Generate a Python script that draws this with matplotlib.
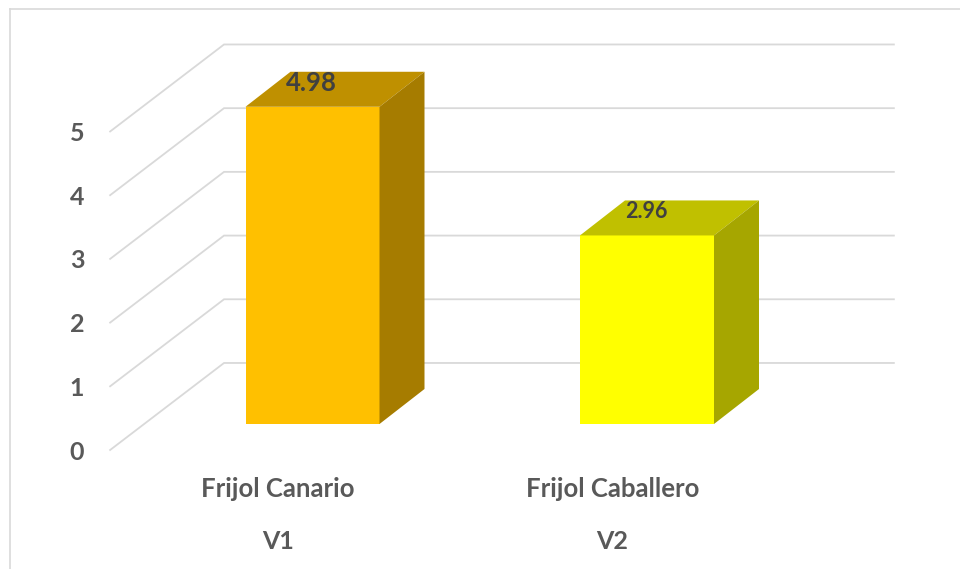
import matplotlib
matplotlib.use('Agg')
import matplotlib.pyplot as plt
from matplotlib.patches import Polygon
from matplotlib.lines import Line2D

plt.rcParams['font.family'] = ['Lato', 'DejaVu Sans']

# Datos
variedades = ['Frijol Canario', 'Frijol Caballero']
codigos = ['V1', 'V2']
valores = [4.98, 2.96]
ticks_y = [0, 1, 2, 3, 4, 5]

colores_frente = ['#FFC000', '#FFFF00']
colores_arriba = ['#BF9000', '#C0C000']
colores_lado = ['#A67C00', '#A6A600']

# Escalas: pixeles por categoria y por unidad de valor
px_x = 334.5
px_y = 63.7
ancho = 134 / px_x
fondo_x = 45 / px_x    # profundidad de la barra
fondo_y = 35 / px_y

fig = plt.figure(figsize=(9.6, 5.69), dpi=100)
ax = fig.add_axes([0, 0, 1, 1])
ax.set_xlim(-312.5 / px_x, (960 - 312.5) / px_x)
ax.set_ylim((424 - 569) / px_y, 424 / px_y)
ax.axis('off')

# Marco exterior del grafico
fig.add_artist(Line2D([9.5 / 960, 9.5 / 960], [0, 1 - 8.5 / 569], color='#D9D9D9', lw=1.2))
fig.add_artist(Line2D([9.5 / 960, 1], [1 - 8.5 / 569, 1 - 8.5 / 569], color='#D9D9D9', lw=1.2))

# Rejilla: piso y pared del fondo
for t in ticks_y:
    ax.plot([-0.605, -0.2645, 1.738],
            [t - 0.408, t + 0.958, t + 0.958],
            color='#D9D9D9', lw=1.3, zorder=1, solid_joinstyle='miter')
    ax.text(-0.704, t - 0.44, str(t), ha='center', va='center',
            fontsize=18, fontweight='bold', color='#595959')

# Barras con efecto 3D
for i, v in enumerate(valores):
    x0 = i - ancho / 2
    x1 = i + ancho / 2
    ax.add_patch(Polygon([(x0, 0), (x1, 0), (x1, v), (x0, v)],
                         fc=colores_frente[i], ec='none', zorder=3))
    ax.add_patch(Polygon([(x0, v), (x1, v), (x1 + fondo_x, v + fondo_y), (x0 + fondo_x, v + fondo_y)],
                         fc=colores_arriba[i], ec='none', zorder=3))
    ax.add_patch(Polygon([(x1, 0), (x1 + fondo_x, fondo_y), (x1 + fondo_x, v + fondo_y), (x1, v)],
                         fc=colores_lado[i], ec='none', zorder=3))
    ax.text(i - 0.003, v + 0.38, f'{v:.2f}', ha='center', va='center',
            fontsize=18.5 if i == 0 else 15.5, fontweight='bold', color='#404040', zorder=4)

    # Etiquetas de categoria
    ax.text(i - 0.103, -1.015, variedades[i], ha='center', va='center',
            fontsize=18.5, fontweight='bold', color='#595959')
    ax.text(i - 0.103, -1.85, codigos[i], ha='center', va='center',
            fontsize=18, fontweight='bold', color='#595959')

fig.savefig('out.png', dpi=100)
